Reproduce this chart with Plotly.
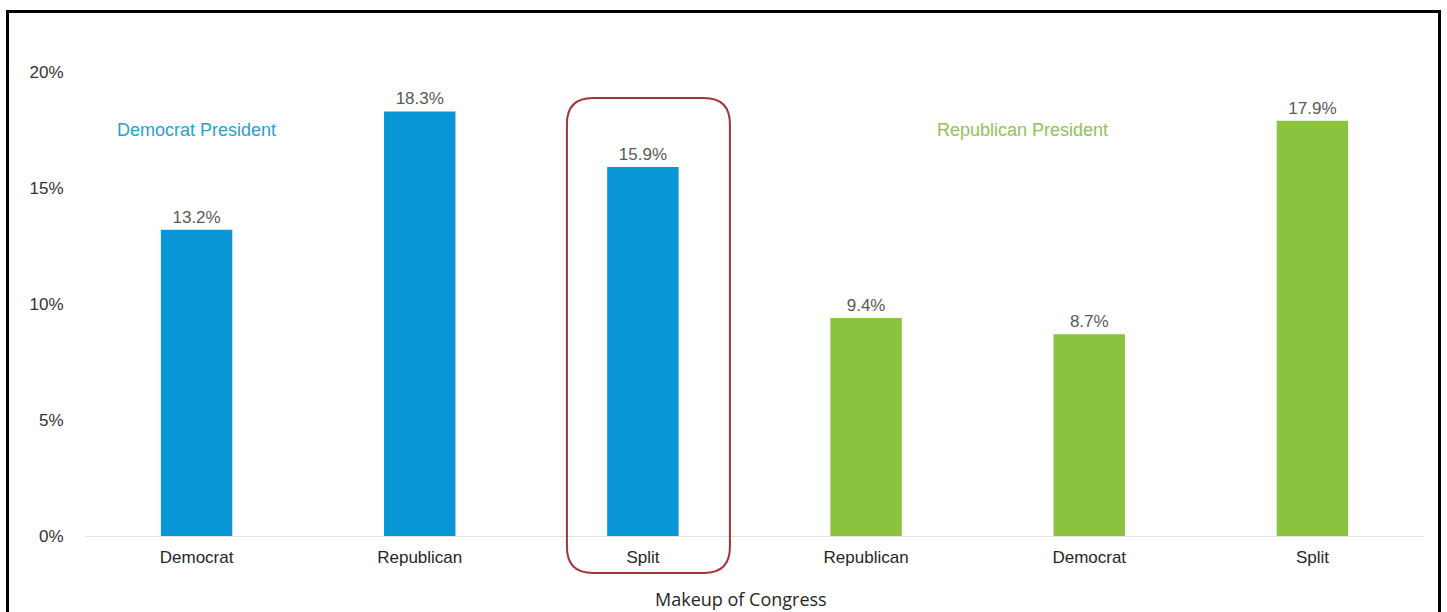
import plotly.graph_objects as go

categories = ["Democrat", "Republican", "Split", "Republican", "Democrat", "Split"]
values = [13.2, 18.3, 15.9, 9.4, 8.7, 17.9]
president = ["Democrat", "Democrat", "Democrat", "Republican", "Republican", "Republican"]
y_ticks = [0, 5, 10, 15, 20]
y_tick_labels = ["0%", "5%", "10%", "15%", "20%"]

BLUE = "#0896d7"
GREEN = "#8bc33e"
FONT = "Liberation Sans, Arial, sans-serif"
colors = [BLUE if p == "Democrat" else GREEN for p in president]
xs = list(range(len(categories)))

fig = go.Figure()
fig.add_trace(go.Bar(
    x=xs, y=values,
    marker=dict(color=colors, line=dict(width=0)),
    width=0.32,
    text=[f"{v:.1f}%" for v in values],
    textposition="outside",
    textfont=dict(family=FONT, size=17, color="#595959"),
    cliponaxis=False,
    hoverinfo="skip",
))

L, R, T, B = 85, 23, 72, 76
W, H = 1447, 612
pw, ph = W - L - R, H - T - B
x_min, x_max = -0.5, len(categories) - 0.5

def px_to_paper_x(px):
    return (px - L) / pw

def px_to_paper_y(py):
    return (H - B - py) / ph

def cat_to_paper_x(i):
    return (i - x_min) / (x_max - x_min)

fig.update_layout(
    width=W, height=H,
    margin=dict(l=L, r=R, t=T, b=B),
    paper_bgcolor="white", plot_bgcolor="white",
    showlegend=False,
    xaxis=dict(
        range=[x_min, x_max],
        tickvals=xs, ticktext=categories,
        tickfont=dict(family=FONT, size=17, color="#262626"),
        showgrid=False, zeroline=False,
        showline=True, linecolor="#e3e3e3", linewidth=1,
        ticks="outside", ticklen=6, tickcolor="rgba(0,0,0,0)",
        fixedrange=True,
    ),
    yaxis=dict(
        range=[0, 20],
        tickvals=y_ticks, ticktext=y_tick_labels,
        tickfont=dict(family=FONT, size=17, color="#333333"),
        showgrid=False, zeroline=False, showline=False,
        ticks="outside", ticklen=17, tickcolor="rgba(0,0,0,0)",
        fixedrange=True,
    ),
)

# Group labels
fig.add_annotation(x=0, y=17.5, xref="x", yref="y", text="Democrat President",
                   showarrow=False, font=dict(family=FONT, size=18, color="#2a9fd2"))
fig.add_annotation(x=3.7, y=17.5, xref="x", yref="y", text="Republican President",
                   showarrow=False, font=dict(family=FONT, size=18, color="#8fc456"))

# Axis title
fig.add_annotation(x=0.49, y=px_to_paper_y(599), xref="paper", yref="paper",
                   xanchor="center", yanchor="middle", text="Makeup of Congress",
                   showarrow=False, font=dict(family="Open Sans, Liberation Sans, sans-serif", size=18, color="#262626"))

# Rounded highlight box around the Democrat/Split bar (paper coords so it is not clipped)
cx = cat_to_paper_x(2)
x0 = cx - 76 / pw
x1 = cx + 87 / pw
y_top = 438 / ph
y_bot = -37 / ph
rx, ry = 26 / pw, 26 / ph
path = (f"M {x0 + rx},{y_top} L {x1 - rx},{y_top} Q {x1},{y_top} {x1},{y_top - ry} "
        f"L {x1},{y_bot + ry} Q {x1},{y_bot} {x1 - rx},{y_bot} "
        f"L {x0 + rx},{y_bot} Q {x0},{y_bot} {x0},{y_bot + ry} "
        f"L {x0},{y_top - ry} Q {x0},{y_top} {x0 + rx},{y_top} Z")
fig.add_shape(type="path", xref="paper", yref="paper", path=path,
              line=dict(color="#a3323f", width=2), fillcolor="rgba(0,0,0,0)", layer="above")

# Outer frame
fig.add_shape(type="rect", xref="paper", yref="paper",
              x0=px_to_paper_x(7.5), x1=px_to_paper_x(1439.5),
              y0=px_to_paper_y(640), y1=px_to_paper_y(11.5),
              line=dict(color="black", width=3), fillcolor="rgba(0,0,0,0)", layer="above")

fig.write_html("out.html")
